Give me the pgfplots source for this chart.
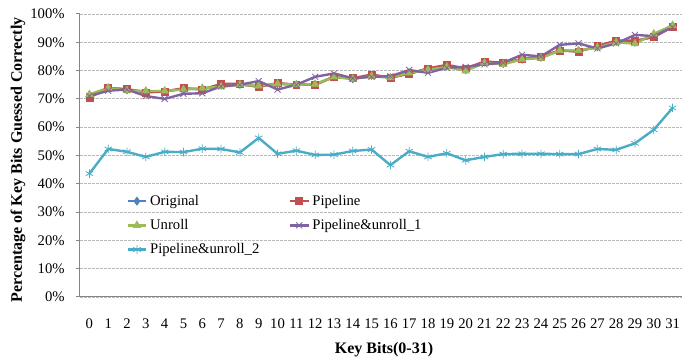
\documentclass[border=0pt]{standalone}
\usepackage{pgfplots}
\pgfplotsset{compat=1.18}
\usepackage{fontspec}
\setmainfont{Liberation Serif}
\definecolor{cBlue}{HTML}{4F81BD}
\definecolor{cRed}{HTML}{C0504D}
\definecolor{cGreen}{HTML}{9BBB59}
\definecolor{cPurple}{HTML}{8064A2}
\definecolor{cCyan}{HTML}{4BACC6}
\definecolor{axgray}{HTML}{868686}
\begin{document}
\begin{tikzpicture}[font=\fontsize{11}{13}\selectfont]
\begin{axis}[
  scale only axis,
  width=451.5pt, height=212.25pt,
  xmin=-0.5, xmax=31.5,
  ymin=0, ymax=100,
  axis lines*=left,
  axis line style={axgray, line width=0.75pt},
  xtick={0,...,31},
  xtick style={draw=none},
  minor xtick={-0.5,0.5,...,31.5},
  minor x tick style={axgray, line width=0.75pt},
  minor tick length=3pt,
  major tick length=3pt,
  tick align=outside,
  ytick={0,10,...,100},
  ytick style={axgray, line width=0.75pt},
  /pgf/number format/assume math mode=true,
  yticklabel={\pgfmathprintnumber{\tick}\%},
  yticklabel style={xshift=-5pt},
  xticklabel style={yshift=-10pt},
  ymajorgrids,
  grid style={gray!55, dash pattern=on 2pt off 1pt, line width=0.6pt},
  xlabel={\fontsize{12}{14}\selectfont\textbf{Key Bits(0-31)}},
  xlabel style={at={(axis description cs:0.505,0)}, anchor=center, yshift=-39.75pt},
  ylabel={\fontsize{12}{14}\selectfont\textbf{Percentage of Key Bits Guessed Correctly}},
  ylabel style={at={(axis description cs:-0.103,0.484)}, anchor=center},
  every axis plot/.append style={line width=1.8pt},
  legend columns=2,
  legend cell align=left,
  legend style={at={(rel axis cs:0.07,0.38)}, anchor=north west, draw=none, fill=none,
    /tikz/every even column/.append style={column sep=20pt},
    row sep=5pt},
  legend image code/.code={\draw[mark repeat=2,mark phase=2] plot coordinates {(0pt,0pt) (7pt,0pt) (14pt,0pt)};},
]
\addplot[cBlue, mark=diamond*, mark size=3pt, mark options={solid, line width=0.5pt}] coordinates {
(0,71.0)(1,73.8)(2,73.2)(3,72.5)(4,72.7)(5,73.5)(6,73.5)(7,74.8)(8,75.1)(9,74.4)(10,75.4)(11,75.0)(12,75.1)(13,77.8)(14,77.1)(15,78.3)(16,77.5)(17,79.0)(18,80.5)(19,81.6)(20,80.3)(21,83.0)(22,82.5)(23,84.0)(24,84.7)(25,87.1)(26,86.9)(27,88.4)(28,90.3)(29,90.0)(30,92.4)(31,95.7)};
\addlegendentry{Original}
\addplot[cRed, mark=square*, mark size=2.6pt, mark options={solid, line width=0.5pt}] coordinates {
(0,70.5)(1,73.8)(2,73.5)(3,72.3)(4,72.6)(5,73.8)(6,73.3)(7,75.3)(8,75.3)(9,74.2)(10,75.6)(11,75.0)(12,75.0)(13,77.8)(14,77.3)(15,78.6)(16,77.5)(17,78.9)(18,80.8)(19,82.0)(20,80.8)(21,83.2)(22,82.8)(23,84.0)(24,85.0)(25,87.1)(26,86.7)(27,88.7)(28,90.6)(29,90.6)(30,91.8)(31,95.5)};
\addlegendentry{Pipeline}
\addplot[cGreen, mark=triangle*, mark size=3.2pt, mark options={solid, line width=0.5pt}] coordinates {
(0,71.6)(1,73.9)(2,72.9)(3,72.8)(4,72.8)(5,73.3)(6,73.8)(7,74.3)(8,75.0)(9,74.6)(10,75.3)(11,75.0)(12,75.2)(13,77.8)(14,77.0)(15,78.0)(16,77.5)(17,79.2)(18,80.3)(19,81.3)(20,79.9)(21,82.7)(22,82.2)(23,84.0)(24,84.4)(25,87.1)(26,87.1)(27,88.2)(28,90.0)(29,89.5)(30,93.0)(31,96.0)};
\addlegendentry{Unroll}
\addplot[cPurple, mark=x, mark size=3.2pt, mark options={solid, line width=0.6pt}] coordinates {
(0,71.0)(1,72.9)(2,73.3)(3,71.0)(4,70.0)(5,71.8)(6,72.0)(7,74.4)(8,75.0)(9,76.3)(10,73.3)(11,75.0)(12,77.8)(13,79.0)(14,77.3)(15,77.8)(16,78.0)(17,80.2)(18,79.2)(19,81.0)(20,81.3)(21,82.2)(22,82.8)(23,85.6)(24,85.0)(25,89.1)(26,89.6)(27,87.8)(28,89.6)(29,92.6)(30,92.2)(31,95.3)};
\addlegendentry{Pipeline\&unroll\_1}
\addplot[cCyan, mark=asterisk, mark size=3.2pt, mark options={solid, line width=0.6pt}] coordinates {
(0,43.6)(1,52.3)(2,51.3)(3,49.5)(4,51.3)(5,51.2)(6,52.4)(7,52.3)(8,51.1)(9,56.2)(10,50.6)(11,51.7)(12,50.2)(13,50.3)(14,51.6)(15,52.1)(16,46.6)(17,51.5)(18,49.5)(19,50.8)(20,48.3)(21,49.5)(22,50.5)(23,50.6)(24,50.6)(25,50.5)(26,50.5)(27,52.3)(28,52.0)(29,54.3)(30,59.1)(31,66.8)};
\addlegendentry{Pipeline\&unroll\_2}
\end{axis}
\pgfresetboundingbox
\useasboundingbox (-60pt,-47.25pt) rectangle (462pt,222.75pt);
\end{tikzpicture}
\end{document}
